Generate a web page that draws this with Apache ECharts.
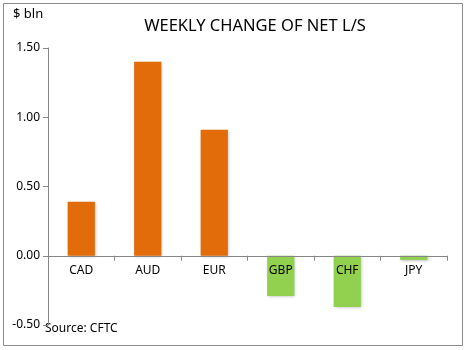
<!DOCTYPE html>
<html><head><meta charset="utf-8">
<script src="https://cdn.jsdelivr.net/npm/echarts@6/dist/echarts.min.js"></script>
<style>html,body{margin:0;padding:0;background:#fff;}#c{width:467px;height:350px;}</style>
</head><body><div id="c"></div>
<script>
const categories = ['CAD','AUD','EUR','GBP','CHF','JPY'];
const values = [0.39, 1.40, 0.91, -0.29, -0.37, -0.03];
const barColors = ['#E36C0A','#E36C0A','#E36C0A','#92D050','#92D050','#92D050'];
const yTicks = [-0.5, 0, 0.5, 1.0, 1.5];
const titleText = 'WEEKLY CHANGE OF NET L/S';
const unitText = '$ bln';
const sourceText = 'Source: CFTC';

const chart = echarts.init(document.getElementById('c'));
const font = 'Noto Sans, sans-serif';
const gridBottom = 25;
chart.setOption({
  animation: false,
  title: { text: titleText, left: 250, top: 13, textAlign: 'center',
    textStyle: { fontFamily: font, fontSize: 16.5, fontWeight: 'normal', color: '#000' } },
  graphic: [
    { type: 'rect', shape: { x: 3.5, y: 3.5, width: 459, height: 342 }, style: { fill: 'none', stroke: '#8c8c8c', lineWidth: 1 } },
    { type: 'text', left: 13, top: 8, style: { text: unitText, font: '13px ' + font, fill: '#000' } },
    { type: 'text', left: 45, top: 323, style: { text: sourceText, font: '12px ' + font, fill: '#000' } }
  ],
  grid: { left: 48, right: 20, top: 48, bottom: gridBottom, containLabel: false },
  xAxis: {
    type: 'category', data: categories, z: 10,
    axisLine: { onZero: false, lineStyle: { color: '#868686' } },
    axisTick: { show: true, length: 5, lineStyle: { color: '#868686' } },
    axisLabel: { margin: 9, fontFamily: font, fontSize: 12, color: '#000' }
  },
  yAxis: {
    type: 'value', min: yTicks[0], max: yTicks[yTicks.length - 1], interval: 0.5,
    splitLine: { show: false },
    axisLine: { show: true, lineStyle: { color: '#868686' } },
    axisTick: { show: true, length: 5, lineStyle: { color: '#868686' } },
    axisLabel: { fontFamily: font, fontSize: 12, color: '#000', margin: 8,
      formatter: v => v.toFixed(2) }
  },
  series: [{
    type: 'bar', barWidth: '41%',
    data: values.map((v, i) => ({ value: v, itemStyle: { color: barColors[i] } })),
    itemStyle: { shadowColor: 'rgba(0,0,0,0.25)', shadowBlur: 3, shadowOffsetX: 1, shadowOffsetY: 1 }
  }]
});
const zeroY = chart.convertToPixel({ yAxisIndex: 0 }, 0);
const bottomY = chart.getHeight() - gridBottom;
chart.setOption({ xAxis: { offset: zeroY - bottomY } });
</script></body></html>
